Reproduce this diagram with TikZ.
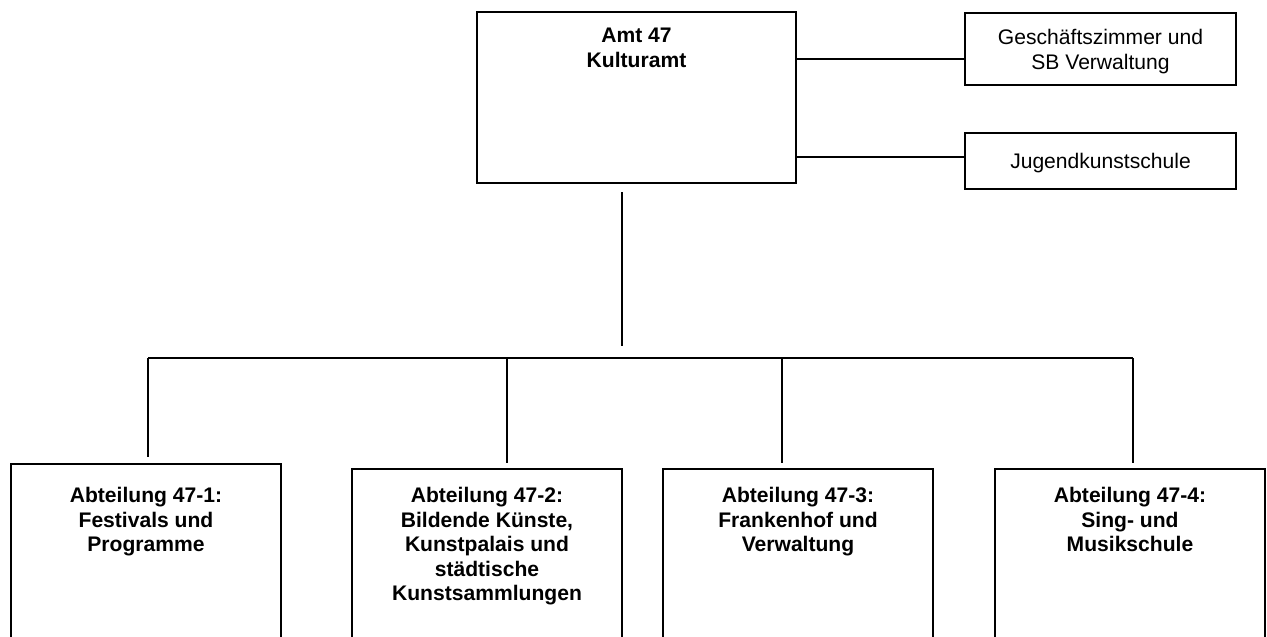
\documentclass[tikz,border=0pt]{standalone}
\usepackage{fontspec}
\setmainfont{Liberation Sans}

\begin{document}
\begin{tikzpicture}[x=0.02cm, y=-0.02cm, line width=1.1pt,
    box/.style={draw, inner sep=0pt},
    txt/.style={anchor=north, align=center, inner sep=0pt, font=\fontsize{12}{13.9}\selectfont}]
    \clip (0,0) rectangle (1267,636);
    % Amt und Stabsstellen
    \node[box, minimum width=6.38cm, minimum height=3.42cm] (amt) at (636.5,97.5) {};
    \node[txt, font=\fontsize{12}{13.9}\selectfont\bfseries] (amttxt) at (636.5,27.5) {Amt 47\\Kulturamt};
    \node[box, minimum width=5.42cm, minimum height=1.44cm] (gz) at (1100.5,49) {};
    \node[txt] (gztxt) at (1100.5,28.5) {Geschäftszimmer und\\SB Verwaltung};
    \node[box, minimum width=5.42cm, minimum height=1.12cm] (jks) at (1100.5,161) {};
    \node[txt] (jkstxt) at (1100.5,152.5) {Jugendkunstschule};
    \coordinate (k1) at (0,59);
    \coordinate (k2) at (0,157);
    \draw (amt.east |- k1) -- (gz.west |- k1);
    \draw (amt.east |- k2) -- (jks.west |- k2);
    % Abteilungen
    \node[box, minimum width=5.4cm, minimum height=3.92cm] (abt1) at (146,562) {};
    \node[box, minimum width=5.4cm, minimum height=3.82cm] (abt2) at (487,564.5) {};
    \node[box, minimum width=5.4cm, minimum height=3.82cm] (abt3) at (798,564.5) {};
    \node[box, minimum width=5.4cm, minimum height=3.82cm] (abt4) at (1130,564.5) {};
    \node[txt, font=\fontsize{12}{13.9}\selectfont\bfseries] (t1) at (146,486.5) {Abteilung 47-1:\\Festivals und\\Programme};
    \node[txt, font=\fontsize{12}{13.9}\selectfont\bfseries] (t2) at (487,486.5) {Abteilung 47-2:\\Bildende Künste,\\Kunstpalais und\\städtische\\Kunstsammlungen};
    \node[txt, font=\fontsize{12}{13.9}\selectfont\bfseries] (t3) at (798,486.5) {Abteilung 47-3:\\Frankenhof und\\Verwaltung};
    \node[txt, font=\fontsize{12}{13.9}\selectfont\bfseries] (t4) at (1130,486.5) {Abteilung 47-4:\\Sing- und\\Musikschule};
    % Verbindungen
    \coordinate (v1) at (622,192);
    \coordinate (v2) at (622,346);
    \draw (v1) -- (v2);
    \coordinate (s1) at (148,358);
    \coordinate (s2) at (507,358);
    \coordinate (s3) at (782,358);
    \coordinate (s4) at (1133,358);
    \draw (s1) -- (s4);
    \foreach \i/\g in {1/0.12cm, 2/0.1cm, 3/0.1cm, 4/0.1cm}
        \draw (s\i) -- ([yshift=\g]abt\i.north -| s\i);
\end{tikzpicture}
\end{document}
